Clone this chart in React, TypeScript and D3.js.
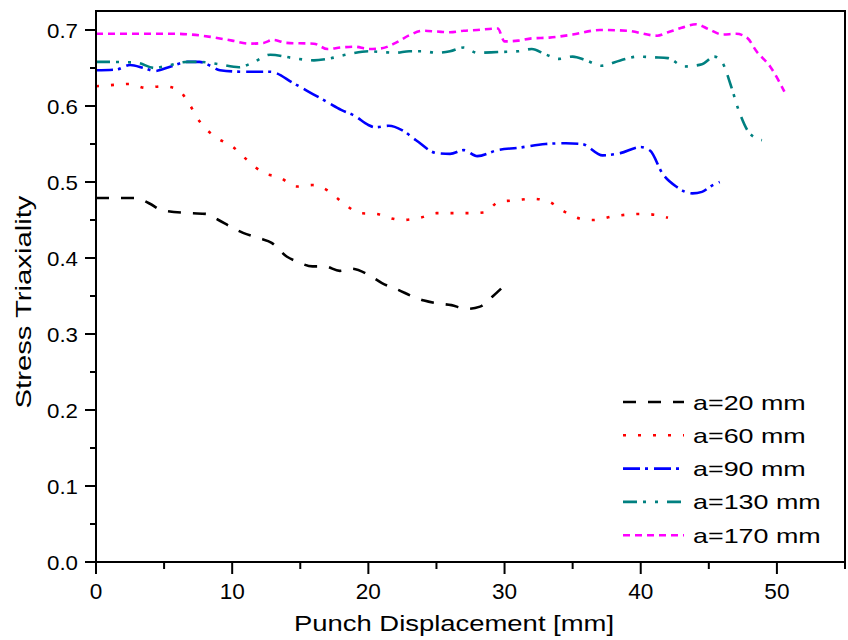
import React from "react";
import * as d3 from "d3";

const xTicks = [0, 10, 20, 30, 40, 50];
const yTicks = [0.0, 0.1, 0.2, 0.3, 0.4, 0.5, 0.6, 0.7];
const xMinor = [5, 15, 25, 35, 45, 55];
const yMinor = [0.05, 0.15, 0.25, 0.35, 0.45, 0.55, 0.65];

const seriesNames = ["a=20 mm", "a=60 mm", "a=90 mm", "a=130 mm", "a=170 mm"];
const seriesColors = ["#000000", "#ff0000", "#0000ff", "#008080", "#ff00ff"];
const seriesDash = ["13,12", "3,12", "17,5,3,6", "14,6,3,9,3,9", "7,5"];

const a20X = [0, 2.9, 4, 4.8, 6.9, 8.1, 8.9, 10, 10.8, 12, 12.9, 14, 14.8, 15.9, 16.8, 17.9, 18.8, 20, 21, 22.2, 23.3, 24.1, 25.2, 26.1, 27.2, 28.2, 29.1, 30];
const a20Y = [0.479, 0.479, 0.471, 0.463, 0.459, 0.458, 0.451, 0.44, 0.433, 0.426, 0.42, 0.402, 0.395, 0.389, 0.389, 0.383, 0.386, 0.378, 0.367, 0.358, 0.349, 0.344, 0.34, 0.338, 0.333, 0.336, 0.349, 0.364];

const a60X = [0, 1.5, 2.5, 3.6, 4.9, 6, 6.9, 7.6, 8.8, 10, 11.1, 12.3, 13.5, 14.7, 15.9, 17, 18.3, 19.4, 20.6, 21.3, 22.5, 23.8, 25, 26.2, 27.3, 28.5, 29.6, 30.9, 32, 33, 34.5, 35.5, 36.5, 38, 40, 41, 42];
const a60Y = [0.626, 0.628, 0.629, 0.624, 0.626, 0.622, 0.601, 0.58, 0.559, 0.547, 0.529, 0.512, 0.506, 0.494, 0.496, 0.489, 0.47, 0.459, 0.458, 0.454, 0.45, 0.453, 0.459, 0.459, 0.459, 0.46, 0.474, 0.476, 0.478, 0.476, 0.46, 0.452, 0.45, 0.455, 0.458, 0.457, 0.453];

const a90X = [0, 1.5, 2.5, 3.5, 4.3, 5.5, 6.7, 7.6, 8.5, 9.1, 10.9, 12.8, 14.5, 15.5, 17, 18, 19, 20, 20.5, 21.5, 22.5, 23.5, 25, 26, 27, 28, 29.5, 31, 33, 34.5, 35.7, 37.2, 38.5, 40, 40.7, 41.6, 42.6, 43.8, 44.5, 45.2, 45.8];
const a90Y = [0.647, 0.648, 0.654, 0.65, 0.646, 0.652, 0.658, 0.658, 0.652, 0.647, 0.645, 0.645, 0.63, 0.62, 0.605, 0.595, 0.587, 0.575, 0.572, 0.574, 0.568, 0.555, 0.538, 0.537, 0.542, 0.534, 0.542, 0.545, 0.55, 0.551, 0.55, 0.535, 0.538, 0.546, 0.541, 0.511, 0.494, 0.485, 0.487, 0.495, 0.5];

const a130X = [0, 1, 3, 4.3, 5, 6.7, 7.6, 9, 10.5, 11.5, 12.8, 14.5, 16, 17, 18.5, 20, 21, 22, 23, 24, 25, 26, 27, 28, 29.5, 31, 32, 33, 34, 35, 36, 37.1, 38.5, 39.8, 41, 42, 43.2, 44.5, 45.4, 46, 46.6, 47.2, 48, 48.9];
const a130Y = [0.658, 0.658, 0.657, 0.65, 0.652, 0.658, 0.658, 0.655, 0.651, 0.657, 0.6675, 0.663, 0.66, 0.662, 0.668, 0.672, 0.671, 0.67, 0.672, 0.672, 0.67, 0.672, 0.677, 0.67, 0.671, 0.672, 0.675, 0.668, 0.662, 0.665, 0.66, 0.653, 0.66, 0.665, 0.664, 0.663, 0.652, 0.655, 0.665, 0.657, 0.628, 0.594, 0.564, 0.555];

const a170X = [0, 3, 6, 7, 8.4, 10, 11.3, 12.3, 13, 14, 16, 17, 18, 19, 20, 21, 22, 23, 24, 25, 26, 27, 28, 29.5, 30, 31, 32, 33.3, 35, 37, 39, 41.2, 42, 43, 44.07, 45, 46, 47, 47.8, 48.5, 49.5, 50.55];
const a170Y = [0.695, 0.695, 0.695, 0.694, 0.691, 0.686, 0.682, 0.683, 0.687, 0.683, 0.682, 0.675, 0.677, 0.678, 0.675, 0.676, 0.683, 0.693, 0.699, 0.698, 0.697, 0.699, 0.7, 0.702, 0.685, 0.686, 0.689, 0.69, 0.694, 0.7, 0.699, 0.6925, 0.697, 0.703, 0.7075, 0.701, 0.694, 0.695, 0.69, 0.672, 0.652, 0.619];

const seriesX = [a20X, a60X, a90X, a130X, a170X];
const seriesY = [a20Y, a60Y, a90Y, a130Y, a170Y];

const L = 96, T = 11, R = 845, B = 562;
const font = "'Liberation Sans', Arial, sans-serif";

export default function App() {
  const x = d3.scaleLinear().domain([0, 55]).range([L, R]);
  const y = d3.scaleLinear().domain([0, 0.725]).range([B, T]);
  const line = d3
    .line<[number, number]>()
    .x((d) => x(d[0]))
    .y((d) => y(d[1]))
    .curve(d3.curveMonotoneX);

  return (
    <svg width={848} height={640} style={{ position: "absolute", left: 0, top: 0 }} fontFamily={font}>
      <rect x={0} y={0} width={848} height={640} fill="#fff" />
      {seriesX.map((xs, i) => (
        <path
          key={i}
          d={line(xs.map((v, j) => [v, seriesY[i][j]]) as [number, number][]) || ""}
          fill="none"
          stroke={seriesColors[i]}
          strokeWidth={2.6}
          strokeDasharray={seriesDash[i]}
        />
      ))}
      <rect x={L} y={T} width={R - L} height={B - T} fill="none" stroke="#000" strokeWidth={2} />
      {xTicks.map((t) => (
        <g key={"xt" + t}>
          <line x1={x(t)} x2={x(t)} y1={B} y2={B + 12} stroke="#000" strokeWidth={2} />
          <text transform={`translate(${x(t)},599) scale(1.05,1)`} textAnchor="middle" fontSize={21.5}>{t}</text>
        </g>
      ))}
      {xMinor.map((t) => (
        <line key={"xm" + t} x1={x(t)} x2={x(t)} y1={B} y2={B + 7} stroke="#000" strokeWidth={2} />
      ))}
      {yTicks.map((t) => (
        <g key={"yt" + t}>
          <line x1={L - 11} x2={L} y1={y(t)} y2={y(t)} stroke="#000" strokeWidth={2} />
          <text x={78} y={y(t) + 7.5} textAnchor="end" fontSize={21} textLength={31} lengthAdjust="spacingAndGlyphs">{t.toFixed(1)}</text>
        </g>
      ))}
      {yMinor.map((t) => (
        <line key={"ym" + t} x1={L - 6} x2={L} y1={y(t)} y2={y(t)} stroke="#000" strokeWidth={2} />
      ))}
      <text transform="translate(454,631) scale(1.22,1)" textAnchor="middle" fontSize={22.5}>Punch Displacement [mm]</text>
      <text transform={`translate(31,302) rotate(-90) scale(1.3,1)`} textAnchor="middle" fontSize={22.5}>Stress Triaxiality</text>
      {seriesNames.map((n, i) => {
        const ry = 402 + i * 33.3;
        return (
          <g key={"lg" + i}>
            <line x1={623} x2={684} y1={ry} y2={ry} stroke={seriesColors[i]} strokeWidth={2.6} strokeDasharray={seriesDash[i]} />
            <text transform={`translate(693,${ry + 7.5}) scale(1.28,1)`} fontSize={21}>{n}</text>
          </g>
        );
      })}
    </svg>
  );
}
